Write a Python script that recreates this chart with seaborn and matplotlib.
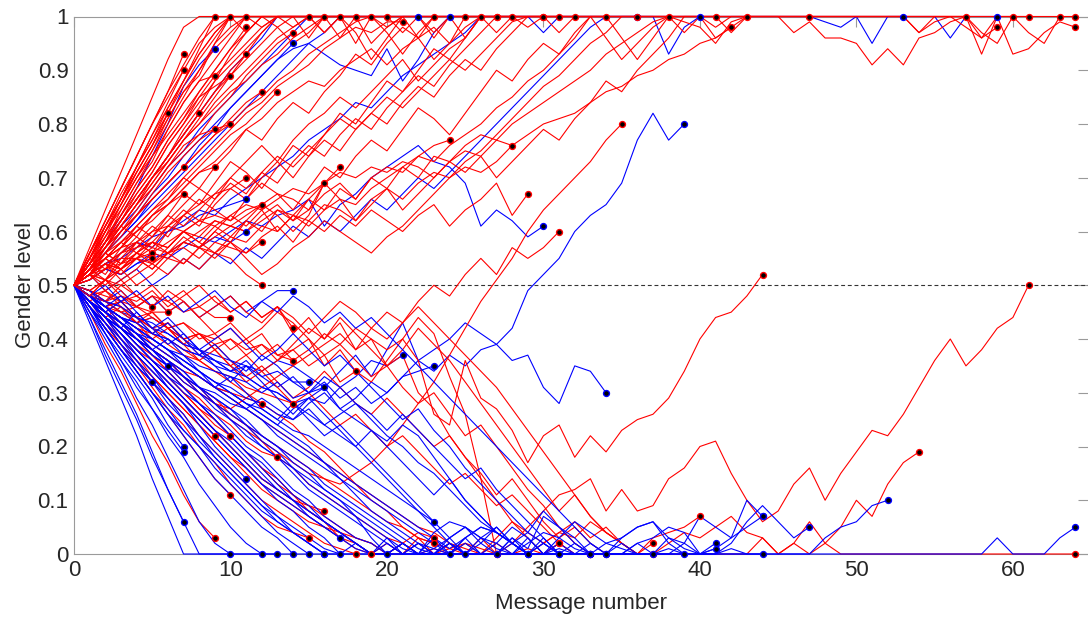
import pandas as pd
import matplotlib
matplotlib.use('Agg')
import matplotlib.pyplot as plt
import seaborn as sns

# Gender level (in %) after each message, one list per conversation.
# Index in the list = message number, last value = where the conversation ended.

# red conversations drifting up (drawn last, on top)
red_up = [
    [50, 57, 64, 71, 78, 85, 92, 98, 100, 100],
    [50, 56, 62, 68, 74, 80, 86, 93],
    [50, 55, 61, 66, 72, 78, 84, 90],
    [50, 54, 60, 65, 71, 76, 82, 88, 94, 100, 100],
    [50, 55, 59, 65, 70, 75, 81, 86, 89, 95, 98, 100],
    [50, 53, 58, 64, 69, 73, 79, 84, 88, 89],
    [50, 52, 57, 62, 67, 71, 76, 80, 85, 87, 89],
    [50, 53, 57, 61, 65, 70, 74, 78, 82, 86, 90, 93],
    [50, 53, 56, 60, 64, 68, 72, 76, 78, 79, 80],
    [50, 52, 56, 59, 63, 67, 71, 74, 77, 79],
    [50, 52, 55, 57, 60, 63, 65, 68, 71, 72],
    [50, 53, 57, 60, 63, 66, 69, 72],
    [50, 53, 55, 58, 60, 63, 65, 67],
    [50, 56, 61, 66, 71, 76, 82],
    [50, 54, 58, 62, 66, 70, 74, 78, 82],
    [50, 52, 55, 57, 58, 60, 61, 63, 65, 67, 68, 70],
    [50, 51, 53, 56, 57, 58, 61, 60, 62, 63, 62, 64, 65],
    [50, 52, 51, 54, 55, 53, 56, 57, 55, 58, 57, 56, 58],
    [50, 53, 56, 58, 61, 64, 66, 69, 72, 75, 78, 80, 83, 86],
    [50, 54, 57, 60, 63, 66, 69, 72, 75, 78, 81, 84, 86],
    [50, 55, 60, 65, 70, 74, 78, 82, 86, 90, 94, 98],
    [50, 54, 58, 61, 65, 68, 72, 75, 78, 82, 85, 89, 92, 95, 97],
    [50, 52, 53, 55, 55, 56],
    [50, 51, 53, 54, 56, 55],
    [50, 52, 54, 56, 58, 56, 58, 60, 58, 56, 55, 52, 50],
    [50, 52, 54, 53, 55, 57, 56, 58, 60, 62, 61, 63, 65, 67, 66, 64, 69, 72],
    [50, 56, 62, 68, 74, 80, 85, 90, 95, 98, 100, 100, 100, 100, 100, 100],
    [50, 55, 60, 66, 71, 76, 81, 86, 90, 94, 97, 100, 100, 100, 100, 100, 100],
    [50, 54, 59, 63, 68, 72, 77, 81, 85, 89, 92, 95, 98, 100, 100, 100, 100, 100],
    [50, 53, 57, 61, 65, 69, 73, 77, 80, 84, 87, 90, 93, 96, 98, 100, 100, 100, 100],
    [50, 54, 58, 62, 66, 70, 73, 77, 80, 83, 86, 88, 91, 93, 96, 98, 100, 100, 100, 100],
    [50, 53, 56, 60, 63, 66, 69, 72, 75, 78, 80, 83, 85, 88, 90, 93, 95, 97, 99, 100, 100],
    [50, 52, 55, 58, 61, 64, 67, 70, 73, 76, 79, 82, 84, 87, 89, 91, 94, 96, 98, 97, 99, 99],
    [50, 55, 61, 66, 72, 77, 82, 87, 92, 96, 100, 97, 100, 98, 95, 97, 100, 96, 100, 100,
     98, 100, 100, 100],
    [50, 56, 61, 67, 72, 78, 83, 88, 93, 97, 100, 100, 98, 100, 100, 96, 100, 100, 97, 92,
     96, 100, 100, 100, 100, 100, 100],
    [50, 54, 58, 63, 67, 71, 76, 80, 84, 88, 91, 94, 97, 100, 98, 100, 100, 100, 95, 100,
     97, 93, 97, 100, 100, 96, 100, 100],
    [50, 52, 55, 57, 60, 62, 65, 68, 71, 73, 76, 79, 81, 84, 86, 88, 87, 90, 92, 94,
     91, 94, 96, 98, 95, 98, 100, 100, 100, 100, 100],
    [50, 53, 55, 58, 56, 59, 62, 65, 68, 66, 70, 73, 76, 73, 77, 80, 82, 85, 83, 86,
     89, 92, 88, 91, 94, 96, 100, 100, 100, 98, 100, 100],
    [50, 52, 54, 53, 56, 58, 57, 60, 59, 62, 61, 60, 63, 65, 62, 64, 67, 69, 66, 70,
     72, 71, 74, 76, 77],
    [50, 48, 51, 53, 50, 52, 55, 54, 57, 56, 59, 58, 61, 60, 63, 62, 65, 64, 62, 66,
     68, 66, 69, 71, 70, 72, 71, 73, 76],
    [50, 52, 50, 53, 55, 53, 56, 54, 57, 55, 58, 56, 59, 61, 58, 62, 60, 63, 61, 64,
     62, 60, 63, 65, 61, 64, 66, 69, 63, 67],
    [50, 52, 54, 51, 53, 56, 55, 58, 57, 60, 58, 62, 60, 64, 62, 66, 64, 68, 66, 70,
     68, 72, 70, 74, 73, 76, 78, 77, 80, 82, 84, 86, 88, 90, 93, 95, 97, 99, 100, 100,
     100, 100],
    [50, 52, 55, 53, 56, 58, 57, 60, 62, 61, 63, 65, 64, 66, 68, 67, 69, 71, 70, 72,
     71, 73, 72, 70, 73, 75, 74, 77, 76, 78, 80, 81, 82, 84, 86, 87, 89, 90, 92, 93,
     95, 96, 98, 100, 100, 100, 100, 100, 100, 100, 100, 100, 100, 100, 100, 100, 100, 100],
    [50, 52, 51, 53, 55, 54, 56, 58, 57, 59, 61, 60, 62, 64, 63, 61, 64, 66, 65, 68,
     70, 72, 74, 73, 76, 78, 80, 83, 85, 88, 90, 93, 96, 100, 100, 100, 100],
    [50, 49, 51, 50, 52, 54, 52, 55, 53, 56, 58, 55, 52, 54, 57, 59, 62, 60, 58, 56,
     59, 61, 64, 67, 70, 73, 75, 78, 81, 84, 87, 89, 92, 95, 97, 100, 100, 100, 100],
    [50, 53, 51, 55, 58, 56, 60, 63, 61, 65, 68, 66, 70, 73, 70, 74, 77, 75, 79, 82,
     80, 84, 87, 85, 89, 92, 90, 94, 97, 100, 100],
    [50, 54, 52, 56, 59, 57, 61, 64, 62, 66, 69, 67, 71, 69, 73, 76, 74, 78, 81, 79,
     83, 86, 89, 87, 91, 94, 97, 100, 100],
    [50, 52, 56, 54, 58, 61, 59, 63, 66, 64, 62, 66, 69, 67, 64, 68, 72, 70, 74, 77,
     75, 79, 83, 81, 78, 82, 86, 90, 88, 92, 95, 93, 97, 100, 100],
    [50, 55, 53, 57, 61, 59, 63, 67, 65, 69, 73, 71, 68, 72, 76, 74, 78, 82, 80, 84,
     88, 86, 90, 94, 92, 96, 100, 100],
    [50, 51, 54, 52, 55, 58, 56, 59, 57, 60, 63, 61, 64, 60, 63, 66, 69, 66, 62, 65,
     68, 64, 67, 70, 73, 71, 74, 70, 73, 76, 79, 77, 81, 84, 88, 86, 90, 93, 96, 100,
     100, 100, 100, 100],
    [50, 52, 55, 53, 56, 54, 57, 60, 58, 61, 59, 62, 65, 63, 60, 63, 69],
    [50, 53, 56, 54, 57, 60, 63, 61, 64, 67, 70, 68, 71, 74, 72, 75, 78, 81, 79, 82,
     85, 83, 86, 89, 92, 90, 93, 96, 99, 100, 100, 100, 100],
    [50, 54, 57, 61, 59, 63, 66, 70, 68, 72, 75, 79, 77, 81, 84, 82, 86, 89, 93, 91,
     95, 98, 96, 100, 100, 100],
    [50, 54, 58, 62, 66, 70, 74, 78, 82, 86, 89, 92, 95, 98, 100, 100, 97, 100, 100, 95,
     98, 100, 96, 92, 95, 100, 100, 97, 100, 100, 100, 97, 100, 100, 96, 92, 95, 98, 100, 100,
     100, 100, 97, 100, 100, 100, 100, 100],
    [50, 55, 60, 64, 69, 74, 79, 84, 88, 92, 96, 100, 100, 100, 100, 100, 100, 100, 100, 100,
     100, 100, 100, 100, 100, 100, 100, 100, 100, 100, 100, 100, 100, 100, 100, 100, 100, 100, 100, 97,
     100, 96, 98],
    [50, 56, 62, 68, 74, 80, 86, 91, 96, 100, 100, 100, 100, 100, 100, 100, 100, 100, 100, 100,
     100, 100, 100, 100, 100, 100, 100, 100, 100, 100, 100, 100, 100, 100, 100, 100, 100, 100, 100, 100,
     100, 100, 100, 100, 100, 100, 100, 100, 100, 100, 100, 100, 100, 100, 97, 100, 100, 100, 100, 100,
     100, 100, 100, 100, 100],
    [50, 55, 61, 66, 72, 77, 83, 88, 93, 97, 100, 100, 100, 100, 100, 100, 97, 100, 100, 100,
     100, 100, 100, 100, 100, 100, 100, 100, 100, 100, 100, 100, 100, 100, 100, 100, 100, 100, 100, 100,
     100, 98, 100, 100, 100, 100, 97, 99, 96, 96, 95, 91, 94, 91, 96, 97, 99, 100, 93, 100,
     93, 94, 97, 99, 98],
    [50, 54, 58, 62, 66, 70, 74, 79, 83, 88, 93, 97, 100, 100, 100, 100, 100, 100, 100, 100,
     100, 100, 100, 97, 100, 100, 100, 100, 100, 100, 100, 100, 100, 100, 100, 100, 100, 100, 100, 100,
     100, 100, 100, 100, 100, 100, 100, 100, 100, 100, 100, 100, 100, 100, 97, 99, 100, 98, 96, 98],
    [50, 55, 60, 65, 70, 75, 80, 85, 90, 95, 100, 100, 100, 100, 100, 100, 100, 100, 100, 100,
     100, 100, 100, 96, 100, 100, 100, 100, 100, 100, 100, 100, 100, 100, 100, 100, 100, 100, 100, 100,
     100, 100, 100, 100, 100, 100, 100, 100, 100, 100, 100, 100, 100, 100, 100, 100, 100, 100, 96, 100,
     100, 100],
    [50, 54, 59, 63, 68, 72, 77, 81, 86, 90, 94, 97, 100, 100, 100, 100, 100, 100, 100, 100,
     100, 97, 100, 100, 100, 100, 100, 100, 100, 100, 100, 100, 100, 100, 100, 100, 100, 100, 100, 99,
     98, 95, 99, 100, 100, 100, 100, 100, 100, 100, 100, 100, 100, 100, 100, 100, 100, 100, 100, 100,
     100],
    [50, 53, 57, 61, 65, 69, 73, 77, 81, 85, 89, 93, 97, 100, 100, 100, 100, 100, 100, 100,
     100, 100, 100, 100, 100, 100, 100, 100, 100, 100, 100, 100, 100, 100, 100, 96, 92, 96, 100, 100,
     100, 100, 100, 100, 100, 100, 100, 100, 100, 100, 100, 100, 100, 100, 100, 100, 100, 100, 97, 95,
     100, 97, 95, 100],
]

# red conversations drifting down or wandering low
red_down = [
    [50, 49, 48, 47, 48, 46],
    [50, 49, 47, 48, 46, 45, 45],
    [50, 48, 49, 47, 46, 48, 47, 45, 46, 44, 44],
    [50, 49, 51, 48, 47, 49, 46, 48, 50, 47, 45, 47, 44, 46, 42],
    [50, 48, 46, 45, 43, 44, 42, 40, 41, 39, 40, 38, 39, 37, 36],
    [50, 48, 46, 47, 44, 42, 43, 40, 41, 38, 40, 37, 39, 36, 38, 35, 37, 32, 34],
    [50, 47, 45, 42, 40, 38, 36, 34, 33, 31, 30, 29, 28],
    [50, 48, 46, 44, 42, 41, 39, 37, 36, 34, 33, 31, 30, 29, 28],
    [50, 47, 43, 40, 37, 34, 31, 28, 25, 22],
    [50, 47, 44, 42, 39, 36, 33, 30, 27, 24, 22],
    [50, 47, 45, 42, 39, 37, 34, 31, 29, 26, 24, 21, 19, 18],
    [50, 46, 42, 38, 34, 30, 26, 22, 18, 14, 11],
    [50, 47, 44, 41, 38, 35, 32, 29, 26, 23, 20, 17, 14, 12, 10, 9, 8],
    [50, 46, 42, 39, 35, 31, 27, 24, 20, 17, 13, 10, 7, 5, 4, 3],
    [50, 45, 39, 34, 28, 22, 17, 11, 6, 3],
    [50, 46, 43, 39, 36, 32, 29, 26, 22, 19, 16, 13, 10, 8, 6, 4, 2, 1, 0],
    [50, 47, 44, 41, 38, 36, 33, 30, 27, 25, 22, 19, 16, 14, 11, 8, 6, 3, 1, 0],
    [50, 48, 45, 43, 41, 38, 36, 33, 31, 29, 26, 24, 21, 18, 16, 13, 11, 9, 7, 5,
     3, 2, 4, 3],
    [50, 49, 47, 46, 44, 42, 40, 38, 36, 34, 32, 30, 28, 26, 24, 21, 19, 16, 13, 10,
     8, 5, 3, 2],
    [50, 47, 45, 43, 40, 38, 36, 33, 31, 28, 26, 24, 22, 20, 18, 16, 14, 12, 10, 8,
     6, 5, 3, 2, 1, 2, 1, 0],
    [50, 48, 46, 44, 42, 39, 37, 35, 33, 31, 29, 27, 25, 23, 21, 19, 17, 15, 13, 11,
     9, 7, 5, 4, 2, 1, 0, 2, 0, 1, 0, 2],
    [50, 52, 49, 51, 48, 50, 47, 49, 46, 48, 45, 47, 44, 46, 41, 44, 40, 43, 38, 40,
     35, 37, 30, 27, 22, 18, 14, 10, 6, 3, 0, 2],
    [50, 48, 47, 45, 46, 44, 42, 43, 41, 40, 42, 39, 41, 37, 38, 40, 35, 38, 34, 32,
     36, 40, 44, 41, 33, 26, 14, 0],
    [50, 48, 51, 49, 46, 48, 45, 47, 44, 41, 43, 40, 42, 45, 43, 40, 37, 39, 36, 33,
     35, 31, 28, 30, 26, 22, 24, 20, 16, 12, 9, 5, 2, 0],
    [50, 47, 49, 46, 43, 45, 42, 39, 41, 38, 35, 37, 34, 36, 39, 42, 40, 44, 41, 38,
     35, 38, 42, 39, 36, 32, 28, 24, 20, 16, 12, 8, 11, 7, 4, 2, 0, 2],
    [50, 48, 45, 47, 44, 41, 43, 40, 37, 39, 36, 33, 35, 32, 29, 31, 34, 31, 28, 26,
     29, 26, 23, 20, 22, 18, 15, 11, 14, 10, 6, 3, 5, 2, 0],
    [50, 49, 47, 50, 48, 46, 49, 47, 44, 46, 48, 45, 43, 46, 44, 41, 44, 47, 45, 42,
     40, 43, 46, 43, 40, 37, 34, 31, 27, 23, 19, 15, 11, 7, 4, 2, 0, 0],
    [50, 47, 44, 46, 43, 40, 42, 39, 36, 38, 35, 32, 34, 31, 28, 30, 27, 24, 26, 23,
     20, 22, 19, 16, 13, 15, 12, 9, 11, 8, 5, 2, 0, 0],
    [50, 48, 46, 43, 41, 38, 36, 33, 30, 28, 25, 23, 21, 19, 17, 15, 14, 13, 15, 17,
     20, 24, 28, 32, 37, 42, 47, 51, 55, 60, 64, 67, 70, 73, 77, 80],
    [50, 47, 45, 42, 40, 37, 35, 32, 30, 28, 27, 29, 31, 33, 35, 37, 39, 41, 38, 42,
     45, 43, 47, 50, 48, 52, 55, 52, 57, 55, 57, 60],
    [50, 48, 46, 47, 44, 45, 42, 43, 40, 41, 38, 40, 37, 39, 36, 38, 41, 39, 42, 40,
     38, 40, 36, 26, 24, 36, 29, 27, 23, 17, 22, 24, 18, 22, 19, 23, 25, 26, 29, 34,
     40, 44, 45, 48, 52],
    [50, 47, 44, 41, 38, 35, 32, 29, 26, 23, 20, 17, 14, 12, 10, 8, 6, 4, 3, 2,
     0, 2, 0, 1, 0, 2, 0, 0, 2, 5, 8, 11, 12, 14, 8, 12, 8, 9, 14, 16,
     20, 21, 15, 10, 6, 8, 13, 16, 10, 15, 19, 23, 22, 26, 31, 36, 40, 35, 38, 42,
     44, 50],
    [50, 48, 45, 43, 40, 37, 34, 31, 28, 25, 22, 19, 16, 13, 11, 9, 7, 5, 3, 2,
     0, 0, 2, 0, 0, 0, 3, 0, 0, 0, 2, 4, 3, 6, 4, 2, 0, 0, 2, 4,
     3, 5, 7, 4, 3, 0, 2, 0, 2, 5, 10, 7, 13, 17, 19],
    [50, 47, 44, 40, 37, 33, 30, 27, 24, 21, 18, 15, 12, 10, 8, 6, 5, 3, 2, 0,
     0, 2, 0, 0, 1, 0, 0, 0, 0, 0, 0, 2, 0, 0, 0, 0, 0, 0, 0, 0,
     0, 0, 0, 0, 3, 0, 2, 6, 2, 0, 0, 0, 0, 0, 0, 0, 0, 0, 0, 0,
     0, 0, 0, 0, 0],
    [50, 46, 43, 39, 36, 33, 30, 27, 24, 21, 18, 16, 13, 11, 9, 7, 5, 4, 2, 0,
     2, 0, 3, 0, 2, 0, 0, 3, 6, 4, 2, 4, 6, 3, 5, 2, 0, 3, 4, 5, 7],
]

# blue conversations drifting up or wandering in the middle (drawn first)
blue_up = [
    [50, 52, 54, 55, 57, 59, 60, 61, 63, 64, 65, 66],
    [50, 51, 53, 52, 54, 55, 56, 58, 57, 59, 58, 60],
    [50, 54, 58, 63, 68, 74, 80, 87, 91, 94],
    [50, 53, 56, 59, 62, 66, 69, 72, 76, 79, 83, 86, 89, 92, 95],
    [50, 48, 47, 49, 46, 48, 45, 47, 44, 46, 48, 45, 47, 49, 49],
    [50, 48, 45, 43, 41, 39, 37, 35, 33, 31, 30, 28, 26, 24, 27, 29, 28, 31, 33, 36, 35, 37],
    [50, 48, 47, 45, 43, 44, 42, 40, 38, 36, 35, 33, 31, 30, 28, 29, 31, 27, 29, 32,
     30, 33, 34, 35],
    [50, 53, 57, 61, 64, 68, 72, 75, 79, 82, 85, 88, 91, 94, 97, 100, 100, 100, 100, 100,
     100, 100, 100],
    [50, 53, 56, 60, 63, 67, 70, 74, 77, 80, 83, 86, 89, 92, 94, 95, 93, 91, 90, 89,
     94, 88, 92, 97, 100],
    [50, 51, 53, 52, 54, 56, 55, 57, 59, 58, 60, 62, 61, 63, 64, 66, 61, 65, 67, 70,
     72, 74, 76, 73, 72, 69, 61, 64, 62, 59, 61],
    [50, 48, 46, 44, 43, 41, 40, 38, 37, 35, 34, 36, 33, 31, 33, 30, 32, 29, 31, 28,
     30, 33, 36, 34, 37, 35, 38, 39, 42, 49, 52, 55, 60, 63, 65, 69, 77, 82, 77, 80],
    [50, 48, 47, 45, 44, 42, 41, 39, 38, 37, 36, 35, 34, 36, 35, 33, 31, 34, 37, 33,
     38, 43, 36, 38, 40, 43, 41, 39, 36, 37, 31, 28, 35, 34, 30],
    [50, 52, 49, 51, 53, 50, 52, 55, 53, 56, 54, 57, 55, 58, 61, 59, 62, 60, 63, 66,
     64, 67, 70, 68, 71, 74, 77, 80, 83, 86, 89, 92, 95, 98, 100, 100, 100],
    [50, 53, 56, 59, 62, 65, 68, 71, 74, 77, 80, 83, 86, 89, 92, 95, 97, 100, 100, 100,
     100, 100, 100, 100, 100, 100, 100, 100, 100, 100, 97, 100, 100, 100, 100, 100, 100, 100, 93, 98,
     100, 100, 100, 100, 100, 100, 100, 100, 99, 98, 100, 95, 100, 100],
    [50, 54, 58, 62, 66, 70, 74, 78, 82, 86, 90, 93, 96, 100, 100, 100, 100, 100, 100, 100,
     100, 100, 100, 100, 100, 100, 100, 100, 100, 100, 100, 100, 100, 100, 100, 100, 100, 100, 100, 100,
     100, 100, 100, 100, 100, 100, 100, 100, 100, 100, 100, 100, 100, 100, 100, 100, 96, 100, 100, 100],
    [50, 52, 54, 56, 58, 57, 60, 62, 64, 63, 66, 68, 70, 72, 74, 77, 79, 81, 84, 83,
     86, 89, 91, 93, 95, 97, 100, 100, 100, 100, 100, 100, 100, 100, 100, 100, 100, 100, 100, 100, 100],
]

# blue conversations drifting down
blue_down = [
    [50, 43, 36, 29, 22, 14, 7, 0, 0, 0, 0],
    [50, 44, 38, 32, 26, 19, 12, 6, 0, 0, 0, 0, 0],
    [50, 45, 40, 35, 29, 24, 18, 12, 6, 2, 0, 0, 0, 0],
    [50, 46, 41, 36, 32, 27, 22, 18, 13, 9, 5, 2, 0, 0, 0],
    [50, 46, 42, 38, 34, 30, 26, 22, 18, 14, 11, 8, 5, 3, 0, 0],
    [50, 47, 43, 40, 36, 33, 29, 26, 22, 19, 16, 13, 10, 7, 4, 2, 0],
    [50, 47, 44, 41, 37, 34, 31, 28, 25, 22, 19, 16, 13, 10, 8, 5, 3, 0],
    [50, 46, 42, 38, 35, 32],
    [50, 47, 44, 42, 40, 37, 35],
    [50, 45, 41, 37, 33, 29, 24, 20],
    [50, 46, 41, 36, 31, 27, 23, 19],
    [50, 44, 37, 31, 25, 18, 12, 6],
    [50, 47, 44, 41, 38, 35, 31, 28, 24, 20, 17, 14],
    [50, 48, 46, 44, 43, 41, 40, 38, 37, 36, 34, 35, 33, 34, 32, 32],
    [50, 47, 45, 43, 41, 40, 38, 37, 35, 34, 33, 32, 30, 32, 29, 30, 31],
    [50, 48, 46, 44, 42, 40, 38, 36, 34, 32, 30, 28, 27, 25, 23, 22, 20, 18, 16, 14,
     12, 10, 8, 6],
    [50, 47, 44, 42, 39, 36, 33, 31, 28, 25, 22, 19, 16, 13, 10, 7, 5, 3],
    [50, 46, 43, 39, 35, 32, 28, 25, 21, 18, 15, 12, 9, 6, 4, 2, 0],
    [50, 48, 45, 43, 41, 38, 36, 34, 31, 29, 27, 24, 22, 20, 17, 15, 12, 10, 7, 3, 0],
    [50, 48, 46, 44, 42, 40, 38, 36, 34, 32, 30, 28, 26, 24, 22, 20, 17, 14, 11, 8,
     6, 4, 2, 1, 0],
    [50, 49, 47, 46, 44, 43, 41, 39, 38, 36, 34, 33, 31, 30, 28, 26, 24, 22, 20, 17,
     14, 11, 8, 5, 2, 0],
    [50, 47, 44, 42, 39, 36, 34, 31, 28, 26, 23, 20, 18, 15, 12, 10, 7, 5, 3, 2,
     0, 2, 0, 3, 0, 0, 2, 5, 2, 0],
    [50, 48, 46, 44, 41, 39, 37, 35, 33, 31, 29, 27, 25, 23, 21, 19, 17, 15, 13, 11,
     9, 7, 5, 3, 1, 3, 5, 4, 2, 0, 2, 0],
    [50, 47, 45, 42, 40, 37, 35, 32, 30, 27, 25, 22, 20, 18, 15, 12, 10, 8, 6, 4,
     2, 0, 2, 0, 0, 3, 5, 4, 2, 4, 8, 5, 2, 0],
    [50, 48, 45, 43, 40, 38, 36, 33, 31, 28, 26, 24, 21, 19, 16, 14, 12, 10, 8, 6,
     4, 2, 0, 1, 3, 5, 3, 1, 0, 2, 4, 3, 1, 0, 0],
    [50, 47, 44, 41, 38, 35, 32, 29, 26, 23, 21, 18, 15, 12, 10, 8, 6, 4, 2, 0,
     0, 2, 0, 4, 6, 5, 3, 2, 0, 0, 0, 3, 6, 4, 2, 1, 0, 0],
    [50, 48, 46, 44, 42, 40, 38, 35, 33, 31, 29, 27, 25, 22, 20, 18, 16, 14, 12, 10,
     8, 6, 4, 2, 0, 2, 0, 0, 3, 1, 7, 5, 3, 0, 0, 3, 5, 6, 2, 0],
    [50, 47, 44, 40, 37, 34, 31, 28, 25, 22, 19, 16, 13, 11, 9, 7, 5, 3, 1, 0,
     0, 2, 0, 0, 3, 0, 0, 2, 5, 3, 0, 1, 0, 0, 0, 2, 0, 0, 3, 1, 0, 2],
    [50, 46, 42, 38, 34, 30, 26, 23, 20, 17, 14, 11, 8, 6, 4, 2, 0, 0, 2, 0,
     3, 0, 0, 0, 2, 0, 0, 0, 0, 3, 0, 0, 0, 2, 0, 0, 0, 0, 1, 0, 0, 1],
    [50, 48, 45, 43, 41, 38, 36, 34, 31, 29, 27, 25, 22, 20, 18, 16, 13, 11, 9, 7,
     5, 3, 1, 0, 2, 0, 3, 5, 2, 0, 3, 0, 0, 0, 2, 3, 5, 6, 3, 2, 7, 5, 3, 10, 7],
    [50, 47, 44, 41, 38, 35, 32, 29, 26, 23, 20, 17, 14, 12, 10, 8, 6, 4, 2, 0,
     2, 0, 0, 0, 0, 3, 0, 0, 0, 0, 0, 2, 0, 0, 0, 0, 2, 3, 5, 4, 0, 1, 3, 5, 7],
    [50, 46, 43, 39, 36, 32, 29, 25, 22, 18, 15, 12, 9, 7, 5, 3, 1, 0, 0, 0,
     0, 0, 0, 0, 0, 0, 0, 0, 2, 0, 0, 0, 0, 0, 0, 0, 0, 0, 0, 0, 0, 0, 1, 0, 0],
    [50, 47, 44, 42, 39, 36, 33, 30, 28, 25, 22, 19, 17, 14, 11, 9, 6, 4, 2, 0,
     0, 0, 2, 0, 0, 0, 0, 0, 3, 0, 0, 0, 0, 0, 0, 0, 2, 0, 0, 2, 0, 0, 2, 6, 9, 6, 3, 5],
    [50, 48, 45, 43, 40, 38, 35, 33, 30, 28, 25, 23, 20, 18, 16, 13, 11, 9, 7, 5,
     3, 1, 0, 0, 2, 0, 0, 0, 0, 0, 0, 0, 0, 0, 0, 0, 0, 0, 0, 0,
     0, 0, 0, 0, 0, 0, 0, 0, 3, 5, 6, 9, 10],
    [50, 46, 42, 38, 34, 30, 27, 23, 20, 16, 13, 10, 7, 4, 2, 0, 0, 0, 0, 0,
     0, 0, 0, 0, 0, 0, 0, 0, 0, 0, 0, 0, 0, 0, 0, 0, 0, 0, 0, 0,
     0, 0, 0, 0, 0, 0, 0, 0, 0, 0, 0, 0, 0, 0, 0, 0, 0, 0, 0, 3, 0, 0, 0, 3, 5],
    [50, 48, 46, 44, 42, 40, 38, 36, 34, 32, 31, 29, 28, 26, 25, 27, 24, 26, 28, 25,
     22, 20, 17, 15, 12, 9, 6, 4, 2, 0],
    [50, 47, 45, 42, 40, 38, 35, 33, 31, 30, 28, 27, 29, 27, 25, 28, 30, 27, 25, 23,
     21, 24, 22, 18, 14, 10, 7, 4, 2, 0, 2, 0, 0, 0],
    [50, 48, 45, 47, 44, 41, 43, 40, 37, 39, 36, 34, 37, 35, 32, 30, 33, 31, 28, 26,
     23, 26, 23, 20, 17, 14, 16, 12, 9, 6, 3, 0],
    [50, 47, 44, 42, 45, 42, 39, 41, 38, 35, 32, 35, 32, 29, 26, 29, 26, 23, 20, 23,
     20, 17, 14, 11, 14, 10, 7, 4, 2, 0],
    [50, 48, 46, 43, 41, 38, 40, 37, 34, 31, 33, 30, 27, 25, 28, 25, 22, 24, 21, 18,
     15, 12, 9, 6, 3, 5, 2, 0],
    [50, 49, 46, 48, 45, 42, 44, 41, 38, 40, 42, 39, 36, 38, 41, 38, 35, 37, 34, 31,
     28, 25, 27, 23, 20, 16, 13, 10, 7, 4, 2, 0, 2, 0],
    [50, 48, 50, 47, 49, 46, 48, 45, 47, 49, 46, 44, 47, 45, 48, 46, 43, 45, 42, 44,
     41, 38, 35, 32, 29, 26, 23, 20, 17, 14, 11, 8, 5, 2, 0],
]


def to_frame(lines, tag):
    rows = []
    for i, vals in enumerate(lines):
        for msg, v in enumerate(vals):
            rows.append((f'{tag}{i}', msg, v / 100))
    return pd.DataFrame(rows, columns=['conv', 'msg', 'level'])


sns.set_style('white')
plt.rcParams['font.family'] = ['Liberation Sans', 'DejaVu Sans']

fig = plt.figure(figsize=(10.88, 6.23), dpi=100)
ax = fig.add_axes([74 / 1088, 69 / 623, 1 - 74 / 1088, 537.5 / 623])

ax.axhline(0.5, color='#333333', lw=0.8, dashes=(3.5, 2.5), zorder=1)

groups = [(blue_up, 'bu', '#0000ff'), (red_down, 'rd', '#ff0000'),
          (blue_down, 'bd', '#0000ff'), (red_up, 'ru', '#ff0000')]
for lines, tag, col in groups:
    df = to_frame(lines, tag)
    sns.lineplot(data=df, x='msg', y='level', units='conv', estimator=None,
                 color=col, lw=0.8, ax=ax, legend=False, clip_on=False, zorder=2)
for lines, tag, col in groups:
    df = to_frame(lines, tag)
    ends = df.groupby('conv').tail(1)
    sns.scatterplot(data=ends, x='msg', y='level', color='black', edgecolor=col,
                    linewidth=1.0, s=18, ax=ax, legend=False, clip_on=False, zorder=3)

ax.set_xlim(0, 64.8)
ax.set_ylim(0, 1)
ax.set_xticks(range(0, 61, 10))
ax.set_yticks([i / 10 for i in range(11)])
ax.set_yticklabels(['0', '0.1', '0.2', '0.3', '0.4', '0.5', '0.6', '0.7', '0.8', '0.9', '1'])
ax.tick_params(direction='in', length=7, width=0.8, color='#9a9a9a', labelsize=16,
               labelcolor='#262626', top=True, right=True, pad=4)
for side, s in ax.spines.items():
    s.set_color('#9a9a9a')
    s.set_linewidth(0.8)
    s.set_zorder(0)
ax.spines['right'].set_visible(False)

ax.set_xlabel('Message number', fontsize=16, color='#262626', labelpad=9)
ax.set_ylabel('Gender level', fontsize=16, color='#262626', labelpad=1)

fig.savefig('out.png', dpi=100)
